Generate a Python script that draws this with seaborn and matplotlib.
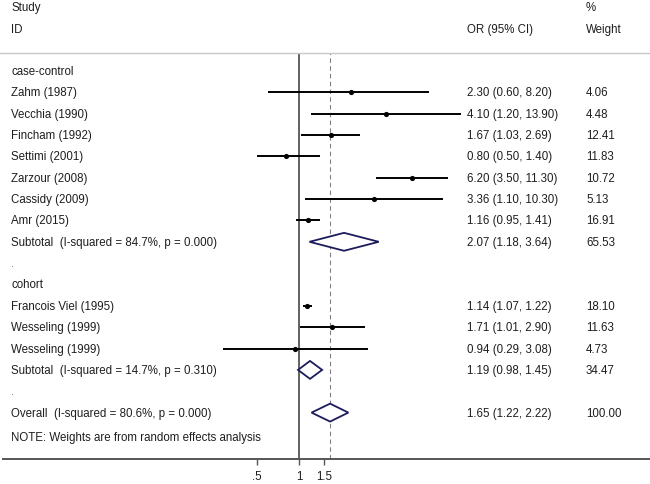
import numpy as np
import pandas as pd
import matplotlib
matplotlib.use("Agg")
import matplotlib.pyplot as plt
import seaborn as sns

# study rows (random effects meta-analysis, OR scale)
study = ["Zahm (1987)", "Vecchia (1990)", "Fincham (1992)", "Settimi (2001)",
         "Zarzour (2008)", "Cassidy (2009)", "Amr (2015)",
         "Francois Viel (1995)", "Wesseling (1999)", "Wesseling (1999)"]
group = ["case-control"] * 7 + ["cohort"] * 3
odds = [2.30, 4.10, 1.67, 0.80, 6.20, 3.36, 1.16, 1.14, 1.71, 0.94]
lower = [0.60, 1.20, 1.03, 0.50, 3.50, 1.10, 0.95, 1.07, 1.01, 0.29]
upper = [8.20, 13.90, 2.69, 1.40, 11.30, 10.30, 1.41, 1.22, 2.90, 3.08]
weight = [4.06, 4.48, 12.41, 11.83, 10.72, 5.13, 16.91, 18.10, 11.63, 4.73]

# pooled rows
pooled_label = ["Subtotal  (I-squared = 84.7%, p = 0.000)",
                "Subtotal  (I-squared = 14.7%, p = 0.310)",
                "Overall  (I-squared = 80.6%, p = 0.000)"]
pooled_or = [2.07, 1.19, 1.65]
pooled_lo = [1.18, 0.98, 1.22]
pooled_hi = [3.64, 1.45, 2.22]
pooled_w = [65.53, 34.47, 100.00]

xticks = [0.5, 1, 1.5]
xtick_labels = [".5", "1", "1.5"]

df = pd.DataFrame({"study": study, "group": group, "OR": odds,
                   "lo": lower, "hi": upper, "w": weight})

# row layout: group title, studies, subtotal, blank "."
rows = []
r = 0
pooled_rows = []
for g in ["case-control", "cohort"]:
    rows.append(("head", g, r)); r += 1
    for i in df.index[df["group"] == g]:
        rows.append(("study", i, r)); r += 1
    pooled_rows.append(r); r += 1
    rows.append(("dot", ".", r)); r += 1
pooled_rows.append(r)
note_row = r + 1.15
df["row"] = [rw for kind, i, rw in rows if kind == "study"]

sns.set_style("white")
plt.rcParams["font.family"] = ["Liberation Sans", "DejaVu Sans"]
txt = "#1e1e1e"
fs = 8.3

fig = plt.figure(figsize=(6.5, 4.85), dpi=100)
W, H = 650, 485
top_px, bot_px = 54, 460
ax = fig.add_axes([0, (H - bot_px) / H, 1, (bot_px - top_px) / H])

k = 61.5  # px per log unit
x_null = 299.3
ax.set_xscale("log")
ax.set_xlim(np.exp(-x_null / k), np.exp((W - x_null) / k))
row_h = 21.35
first_px = 72
ax.set_ylim((bot_px - first_px) / row_h, (top_px - first_px) / row_h)

# null line and overall line
ax.axvline(1, color="#555555", lw=1.3, zorder=1)
ax.axvline(pooled_or[2], color="#808080", lw=0.8, ls=(0, (4, 3)), zorder=1)

# CIs and point estimates
ax.hlines(df["row"], df["lo"], df["hi"], color="black", lw=1.4, zorder=3)
sns.scatterplot(data=df, x="OR", y="row", color="black", s=14,
                edgecolor="black", linewidth=0, ax=ax, zorder=4, legend=False)

# diamonds
dh = 0.42
for rw, est, lo, hi in zip(pooled_rows, pooled_or, pooled_lo, pooled_hi):
    ax.fill([lo, est, hi, est, lo], [rw, rw - dh, rw, rw + dh, rw],
            facecolor="white", edgecolor="#1c1c5c", lw=1.3, zorder=5)

# text columns
tr = ax.get_yaxis_transform()
x_lab, x_or, x_w = 11 / W, 467 / W, 586 / W
for kind, i, rw in rows:
    if kind == "head":
        ax.text(x_lab, rw, i, transform=tr, va="center", fontsize=fs, color=txt)
    elif kind == "dot":
        ax.text(x_lab, rw, i, transform=tr, va="center", fontsize=fs, color="#777777")
    else:
        s = df.loc[i]
        ax.text(x_lab, rw, s["study"], transform=tr, va="center", fontsize=fs, color=txt)
        ax.text(x_or, rw, f"{s['OR']:.2f} ({s['lo']:.2f}, {s['hi']:.2f})",
                transform=tr, va="center", fontsize=fs, color=txt)
        ax.text(x_w, rw, f"{s['w']:.2f}", transform=tr, va="center", fontsize=fs, color=txt)
for rw, lab, est, lo, hi, w in zip(pooled_rows, pooled_label, pooled_or,
                                   pooled_lo, pooled_hi, pooled_w):
    ax.text(x_lab, rw, lab, transform=tr, va="center", fontsize=fs, color=txt)
    ax.text(x_or, rw, f"{est:.2f} ({lo:.2f}, {hi:.2f})", transform=tr,
            va="center", fontsize=fs, color=txt)
    ax.text(x_w, rw, f"{w:.2f}", transform=tr, va="center", fontsize=fs, color=txt)
ax.text(x_lab, note_row, "NOTE: Weights are from random effects analysis",
        transform=tr, va="center", fontsize=fs, color=txt)

# header
hdr_study = (8 - first_px) / row_h
hdr_id = (30 - first_px) / row_h
ax.text(x_lab, hdr_study, "Study", transform=tr, va="center", fontsize=fs, color=txt, clip_on=False)
ax.text(x_lab, hdr_id, "ID", transform=tr, va="center", fontsize=fs, color=txt, clip_on=False)
ax.text(x_or, hdr_id, "OR (95% CI)", transform=tr, va="center", fontsize=fs, color=txt, clip_on=False)
ax.text(x_w, hdr_study, "%", transform=tr, va="center", fontsize=fs, color=txt, clip_on=False)
ax.text(x_w, hdr_id, "Weight", transform=tr, va="center", fontsize=fs, color=txt, clip_on=False)

# axes styling
for sp in ["left", "right"]:
    ax.spines[sp].set_visible(False)
ax.spines["top"].set_color("#c8c8c8")
ax.spines["top"].set_linewidth(1.0)
ax.spines["bottom"].set_color("#555555")
ax.spines["bottom"].set_linewidth(1.4)
ax.spines["bottom"].set_bounds(np.exp((3 - x_null) / k), np.exp((W - x_null) / k))
ax.set_yticks([])
ax.set_xticks(xticks)
ax.set_xticklabels(xtick_labels)
ax.xaxis.set_minor_locator(matplotlib.ticker.NullLocator())
ax.tick_params(axis="x", which="major", direction="out", length=4, width=1,
               color="#555555", labelsize=fs, labelcolor=txt, pad=4, bottom=True)
ax.set_xlabel("")
ax.set_ylabel("")

fig.savefig("out.png", dpi=100)
